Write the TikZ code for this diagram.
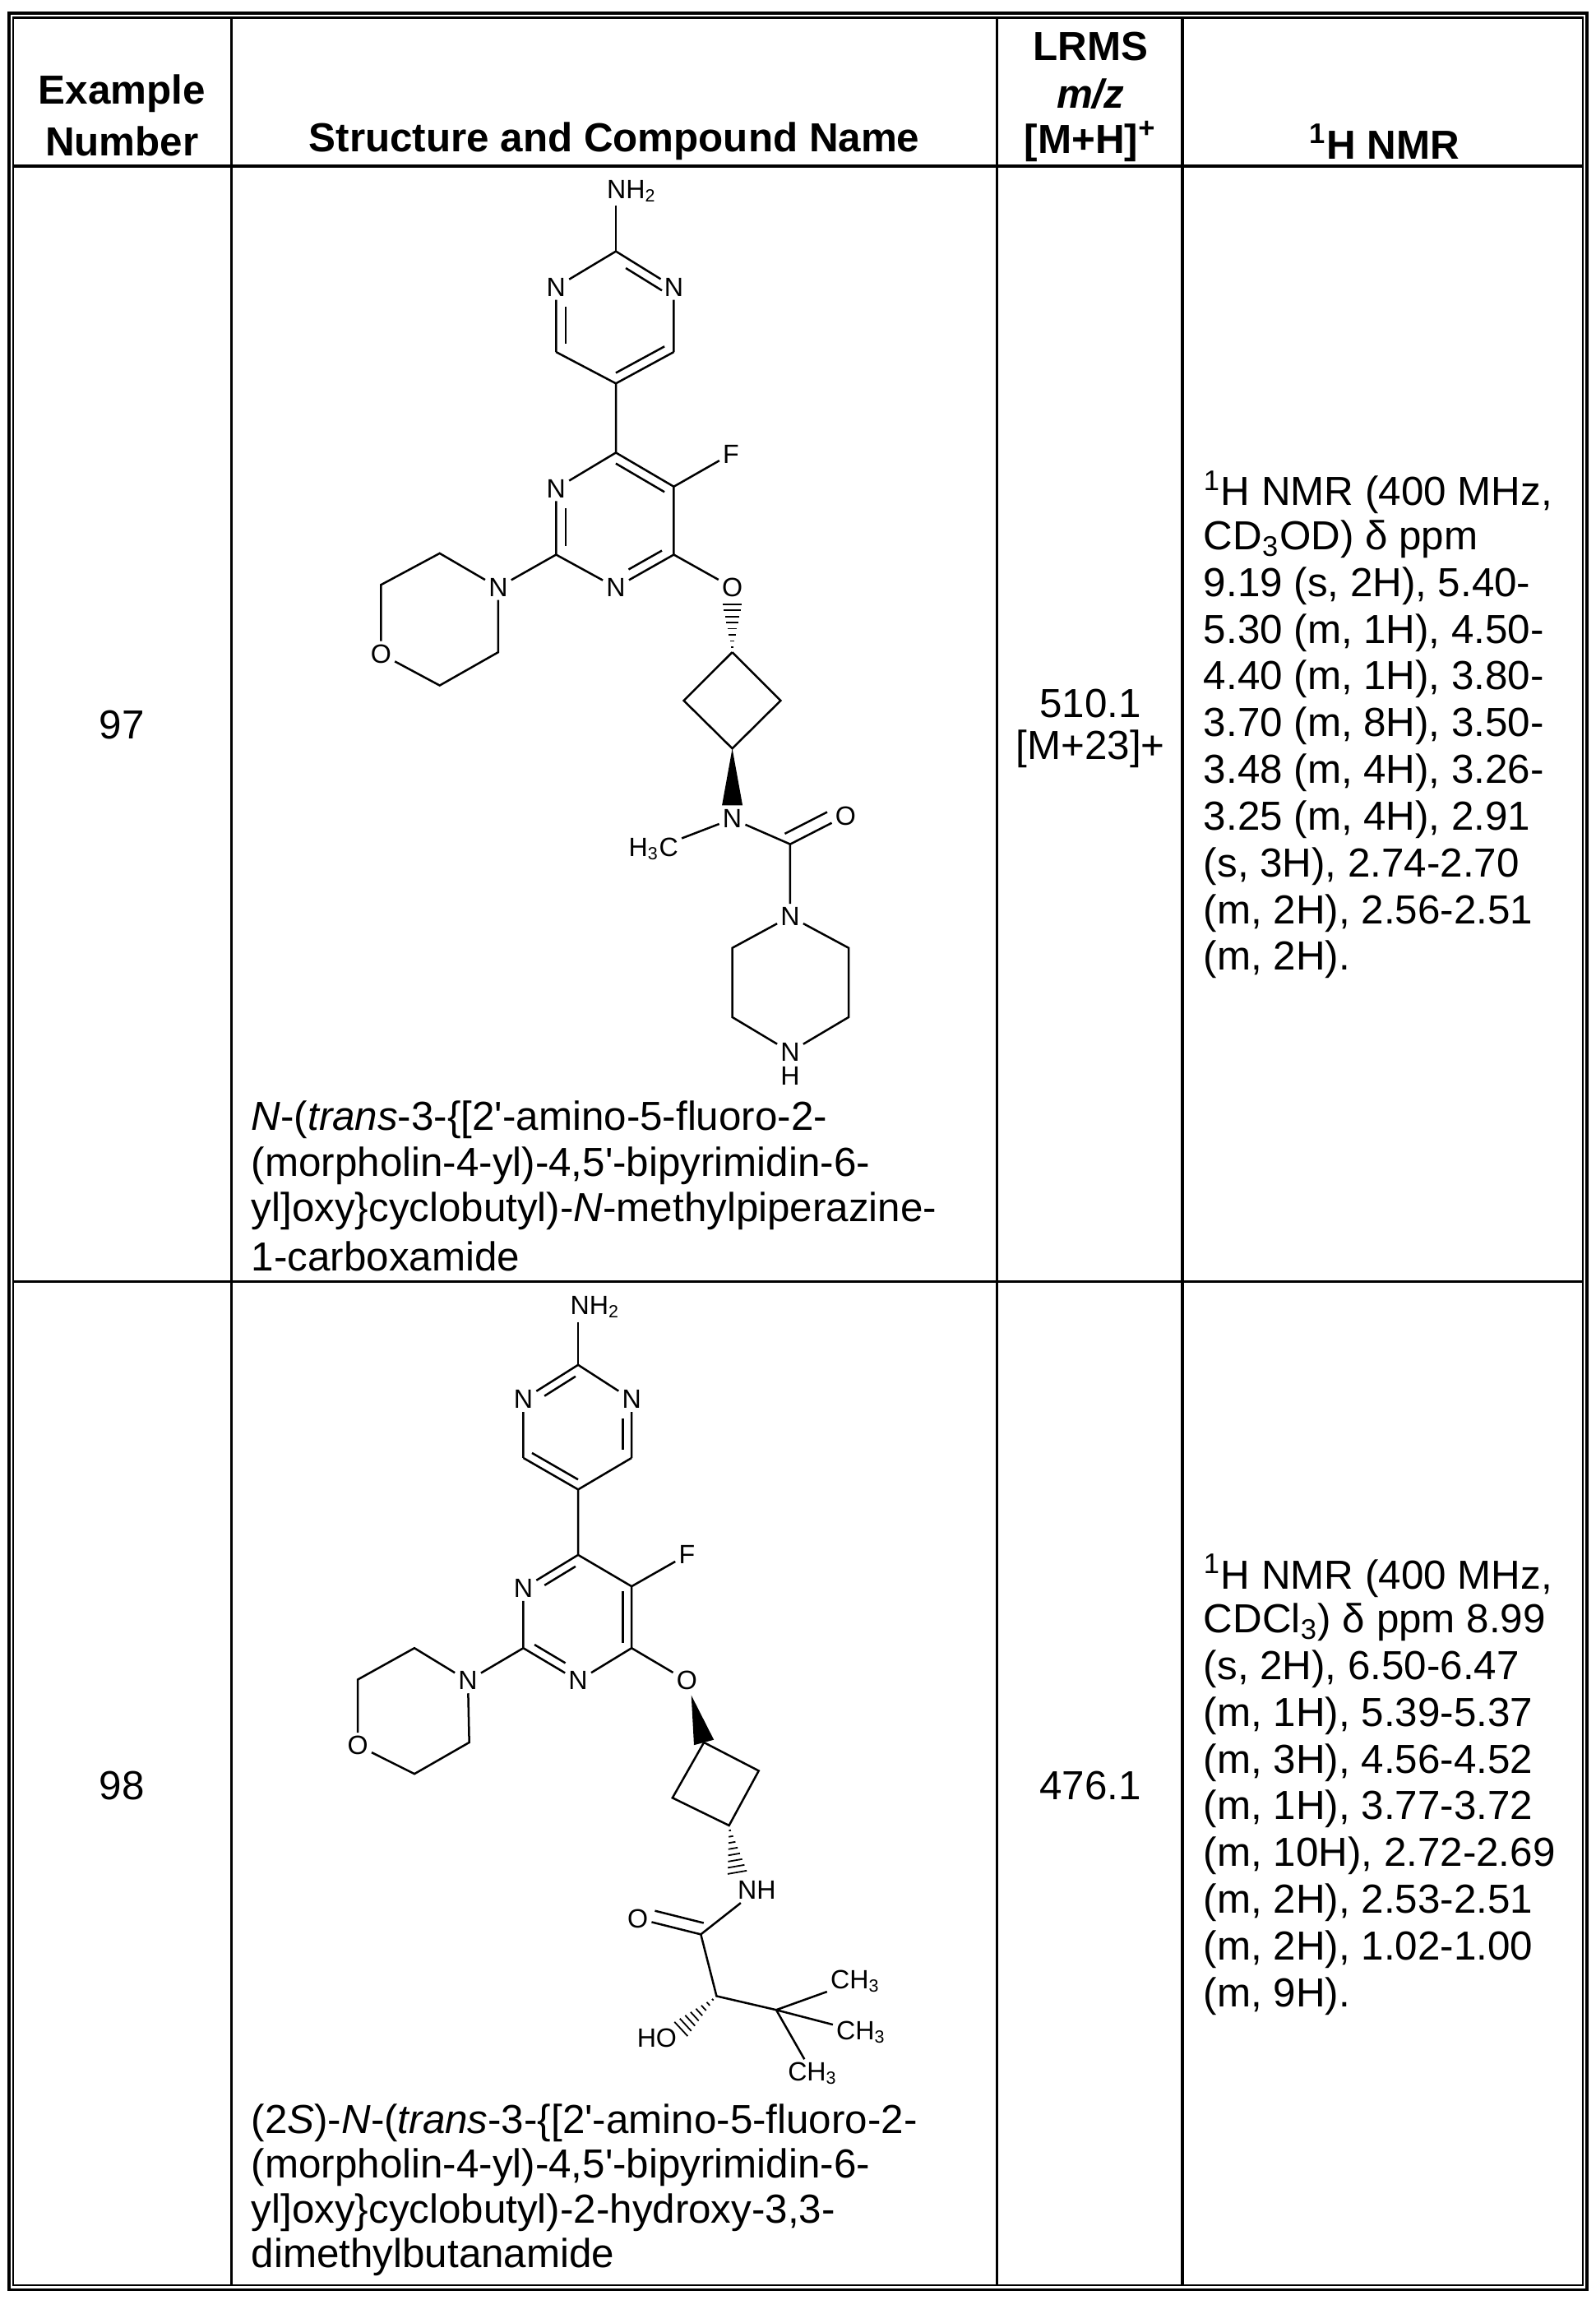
\documentclass[tikz,border=0pt]{standalone}
\usepackage{fontspec}
\setmainfont{Liberation Sans}
\usetikzlibrary{calc}
\tikzset{
  atom/.style={font=\fontsize{9}{9}\selectfont, inner sep=1pt},
  bond/.style={line width=0.7pt},
  txt/.style={font=\fontsize{13.8}{15.9}\selectfont, inner sep=0pt, anchor=west},
  ctr/.style={font=\fontsize{13.8}{15.9}\selectfont, inner sep=0pt},
  hdr/.style={font=\bfseries\fontsize{13.8}{15.9}\selectfont, inner sep=0pt},
  grid/.style={line width=1pt}
}
\newcommand\hashb[2]{\foreach \t in {0.1,0.22,...,0.95}{\draw[line width=0.5pt] ($(#1)!\t!(#2)!{\t*3.5pt}!90:(#2)$) -- ($(#1)!\t!(#2)!{\t*3.5pt}!-90:(#2)$);}}
\newcommand\wedgeb[2]{\fill ($(#1)$) -- ($(#2)!3.5pt!90:(#1)$) -- ($(#2)!3.5pt!-90:(#1)$) -- cycle;}
\newcommand\dbl[3]{\draw[bond] ($(#1)!0.16!(#3)$) -- ($(#2)!0.16!(#3)$);}
\newcommand\ap{\textquotesingle}
\begin{document}
\begin{tikzpicture}[x=0.5pt,y=-0.5pt]
\useasboundingbox (0,0) rectangle (1086,1565);
% table
\draw[line width=1.1pt] (6,9) rectangle (1080,1558);
\draw[line width=0.6pt] (9,12) rectangle (1077,1555);
\draw[grid] (157.4,12) -- (157.4,1555);
\draw[grid] (678.5,12) -- (678.5,1555);
\draw[grid] (804.6,12) -- (804.6,1555);
\draw[grid] (9,112.9) -- (1077,112.9);
\draw[grid] (9,872) -- (1077,872);
% headers
\node[hdr] (h1a) at (83,63.7) {Example};
\node[hdr] (h1b) at (83,96.2) {Number};
\node[hdr] (h2) at (418,96.2) {Structure and Compound Name};
\node[hdr] (h3a) at (742,31.5) {LRMS};
\node[hdr] (h3b) at (742,63.7) {\textit{m/z}};
\node[hdr] (h3c) at (742,96.2) {[M+H]\textsuperscript{+}};
\node[hdr] (h4) at (942,96.2) {\textsuperscript{1}H NMR};
% row 1
\node[ctr] (n97) at (83,493) {97};
\node[ctr] (m97a) at (742,478.8) {510.1};
\node[ctr] (m97b) at (742,509.4) {[M+23]+};
\foreach \l [count=\i from 0] in {{\textsuperscript{1}H NMR (400 MHz,},{CD\textsubscript{3}OD) δ ppm},{9.19 (s, 2H), 5.40-},{5.30 (m, 1H), 4.50-},{4.40 (m, 1H), 3.80-},{3.70 (m, 8H), 3.50-},{3.48 (m, 4H), 3.26-},{3.25 (m, 4H), 2.91},{(s, 3H), 2.74-2.70},{(m, 2H), 2.56-2.51},{(m, 2H).}}
  \node[txt] (r1n\i) at (818.7,335+31.8*\i) {\l};
\node[txt] (c1a) at (170.7,762) {\textit{N}-(\textit{trans}-3-\{[2\ap-amino-5-fluoro-2-};
\node[txt] (c1b) at (170.7,793) {(morpholin-4-yl)-4,5\ap-bipyrimidin-6-};
\node[txt] (c1c) at (170.7,824) {yl]oxy\}cyclobutyl)-\textit{N}-methylpiperazine-};
\node[txt] (c1d) at (170.7,855) {1-carboxamide};
% row 2
\node[ctr] (n98) at (83,1215) {98};
\node[ctr] (m98) at (742,1215) {476.1};
\foreach \l [count=\i from 0] in {{\textsuperscript{1}H NMR (400 MHz,},{CDCl\textsubscript{3}) δ ppm 8.99},{(s, 2H), 6.50-6.47},{(m, 1H), 5.39-5.37},{(m, 3H), 4.56-4.52},{(m, 1H), 3.77-3.72},{(m, 10H), 2.72-2.69},{(m, 2H), 2.53-2.51},{(m, 2H), 1.02-1.00},{(m, 9H).}}
  \node[txt] (r2n\i) at (818.7,1072+31.8*\i) {\l};
\node[txt] (c2a) at (170.7,1444.6) {(2\textit{S})-\textit{N}-(\textit{trans}-3-\{[2\ap-amino-5-fluoro-2-};
\node[txt] (c2b) at (170.7,1475) {(morpholin-4-yl)-4,5\ap-bipyrimidin-6-};
\node[txt] (c2c) at (170.7,1505.4) {yl]oxy\}cyclobutyl)-2-hydroxy-3,3-};
\node[txt] (c2d) at (170.7,1535.8) {dimethylbutanamide};

% ================= molecule 1
\node[atom] (aNH2) at (429.8,129.9) {NH\textsubscript{2}};
\coordinate (aNH2b) at (419.1,139.7);
\coordinate (aC2) at (419.1,171);
\node[atom] (aN1) at (378.4,195.4) {N};
\node[atom] (aN3) at (458.5,195.4) {N};
\coordinate (aC6) at (378.4,239.5);
\coordinate (aC4) at (458.5,239.5);
\coordinate (aC5) at (419.1,260.9);
\coordinate (aRc) at (418.8,216);
\coordinate (aB1) at (419.1,308);
\coordinate (aB2) at (458.5,331.1);
\node[atom] (aF) at (497.4,308.9) {F};
\node[atom] (aB6) at (378.4,332.4) {N};
\coordinate (aB5) at (378.4,377.4);
\node[atom] (aB4) at (419.1,399.7) {N};
\coordinate (aB3) at (458.5,377.4);
\coordinate (aBc) at (418.8,354);
\node[atom] (aO) at (498.3,399.7) {O};
\node[atom] (aMN) at (339,399.7) {N};
\coordinate (aM1) at (299.2,376.5);
\coordinate (aM2) at (259.3,397.9);
\node[atom] (aMO) at (259.3,445) {O};
\coordinate (aM4) at (299.2,466.4);
\coordinate (aM5) at (339,443.8);
\coordinate (aQ1) at (498.3,443.8);
\coordinate (aQ2) at (465.3,476.7);
\coordinate (aQ3) at (531.2,476.7);
\coordinate (aQ4) at (498.3,509.3);
\node[atom] (aN) at (498.3,557.2) {N};
\node[atom] (aMe) at (444.7,577.8) {H\textsubscript{3}C};
\coordinate (aCO) at (537.7,574.4);
\node[atom] (aO2) at (575.4,555.1) {O};
\node[atom] (aPN) at (537.7,623.6) {N};
\coordinate (aP1) at (577.5,645);
\coordinate (aP2) at (577.5,692.1);
\node[atom] (aPNH) at (537.7,715.7) {N};
\node[atom] (aPH) at (537.7,731.9) {H};
\coordinate (aP4) at (498.3,692.1);
\coordinate (aP5) at (498.3,645);
\begin{scope}[bond]
\draw (aNH2b) -- (aC2);
\draw (aC2) -- (aN1) (aC2) -- (aN3) (aN1) -- (aC6) (aN3) -- (aC4) (aC6) -- (aC5) -- (aC4);
\draw (aC5) -- (aB1) -- (aB2) (aB1) -- (aB6) (aB6) -- (aB5) (aB5) -- (aB4) (aB4) -- (aB3) (aB3) -- (aB2) (aB2) -- (aF);
\draw (aB3) -- (aO) (aB5) -- (aMN);
\draw (aMN) -- (aM1) -- (aM2) -- (aMO) -- (aM4) -- (aM5) -- (aMN);
\draw (aQ1) -- (aQ2) -- (aQ4) -- (aQ3) -- (aQ1);
\draw (aN) -- (aMe) (aN) -- (aCO) -- (aPN) (aCO) -- (aO2);
\draw (aPN) -- (aP1) -- (aP2) -- (aPNH) -- (aP4) -- (aP5) -- (aPN);
\end{scope}
\draw[bond,shorten <=4pt,shorten >=1pt] ($(aC2)!0.16!(aRc)$) -- ($(aN3)!0.16!(aRc)$);
\draw[bond,shorten <=5pt,shorten >=1pt] ($(aN1)!0.16!(aRc)$) -- ($(aC6)!0.16!(aRc)$);
\dbl{aC5}{aC4}{aRc}
\dbl{aB1}{aB2}{aBc}
\draw[bond,shorten <=5pt,shorten >=1pt] ($(aB6)!0.16!(aBc)$) -- ($(aB5)!0.16!(aBc)$);
\draw[bond,shorten <=5pt,shorten >=1pt] ($(aB4)!0.16!(aBc)$) -- ($(aB3)!0.16!(aBc)$);
\draw[bond,shorten >=5pt] ($(aCO)!4pt!90:(aO2)$) -- ($(aO2)!4pt!-90:(aCO)$);
\coordinate (aOh) at (498.3,409);
\hashb{aQ1}{aOh}
\coordinate (aNw) at (498.3,548);
\wedgeb{aQ4}{aNw}

% ================= molecule 2
\node[atom] (bNH2) at (404.9,889.3) {NH\textsubscript{2}};
\coordinate (bNH2b) at (393.4,899.5);
\coordinate (bC2) at (393.4,928.7);
\node[atom] (bN1) at (356.1,952.2) {N};
\node[atom] (bN3) at (429.8,952.2) {N};
\coordinate (bC6) at (356.1,992);
\coordinate (bC4) at (429.8,992);
\coordinate (bC5) at (393.4,1013.5);
\coordinate (bRc) at (393,971);
\coordinate (bB1) at (393.4,1058);
\coordinate (bB2) at (429.8,1079.4);
\node[atom] (bF) at (467.4,1058) {F};
\node[atom] (bB6) at (356.1,1080.7) {N};
\coordinate (bB5) at (356.1,1121.4);
\node[atom] (bB4) at (393.4,1143.6) {N};
\coordinate (bB3) at (429.8,1121.4);
\coordinate (bBc) at (393,1100.5);
\node[atom] (bO) at (467.4,1143.6) {O};
\node[atom] (bMN) at (318.4,1143.6) {N};
\coordinate (bM1) at (282,1121.4);
\coordinate (bM2) at (243.5,1142.8);
\node[atom] (bMO) at (243.5,1187.7) {O};
\coordinate (bM4) at (282,1207);
\coordinate (bM5) at (319.3,1185.6);
\coordinate (bQ1) at (479,1185.6);
\coordinate (bQ2) at (516.3,1204.9);
\coordinate (bQ3) at (496.1,1242.1);
\coordinate (bQ4) at (457.6,1223.3);
\node[atom] (bNH) at (515,1286.2) {NH};
\coordinate (bNHh) at (502,1276);
\coordinate (bCO) at (476.9,1316.2);
\node[atom] (bO2) at (434,1305.5) {O};
\coordinate (bCH) at (487.6,1358.2);
\node[atom] (bHO) at (447,1386.8) {HO};
\coordinate (bHOh) at (461.9,1382);
\coordinate (bCq) at (528.2,1367.6);
\node[atom] (bMe1) at (582,1348.3) {CH\textsubscript{3}};
\node[atom] (bMe2) at (586,1382.6) {CH\textsubscript{3}};
\node[atom] (bMe3) at (553,1411) {CH\textsubscript{3}};
\begin{scope}[bond]
\draw (bNH2b) -- (bC2);
\draw (bC2) -- (bN1) (bC2) -- (bN3) (bN1) -- (bC6) (bN3) -- (bC4) (bC6) -- (bC5) -- (bC4);
\draw (bC5) -- (bB1) -- (bB2) (bB1) -- (bB6) (bB6) -- (bB5) (bB5) -- (bB4) (bB4) -- (bB3) (bB3) -- (bB2) (bB2) -- (bF);
\draw (bB3) -- (bO) (bB5) -- (bMN);
\draw (bMN) -- (bM1) -- (bM2) -- (bMO) -- (bM4) -- (bM5) -- (bMN);
\draw (bQ1) -- (bQ2) -- (bQ3) -- (bQ4) -- (bQ1);
\draw (bNH) -- (bCO) -- (bCH) -- (bCq) (bCO) -- (bO2);
\draw (bCq) -- (bMe1) (bCq) -- (bMe2) (bCq) -- (bMe3);
\end{scope}
\draw[bond,shorten <=1pt,shorten >=5pt] ($(bC2)!0.16!(bRc)$) -- ($(bN1)!0.16!(bRc)$);
\draw[bond,shorten <=5pt,shorten >=1pt] ($(bN3)!0.16!(bRc)$) -- ($(bC4)!0.16!(bRc)$);
\dbl{bC6}{bC5}{bRc}
\draw[bond,shorten <=5pt,shorten >=1pt] ($(bB6)!0.16!(bBc)$) -- ($(bB1)!0.16!(bBc)$);
\dbl{bB2}{bB3}{bBc}
\draw[bond,shorten <=1pt,shorten >=5pt] ($(bB5)!0.16!(bBc)$) -- ($(bB4)!0.16!(bBc)$);
\draw[bond,shorten >=5pt] ($(bCO)!4pt!-90:(bO2)$) -- ($(bO2)!4pt!90:(bCO)$);
\coordinate (bOw) at (470.4,1153.5);
\wedgeb{bOw}{bQ1}
\hashb{bQ3}{bNHh}
\hashb{bCH}{bHOh}
\end{tikzpicture}
\end{document}
